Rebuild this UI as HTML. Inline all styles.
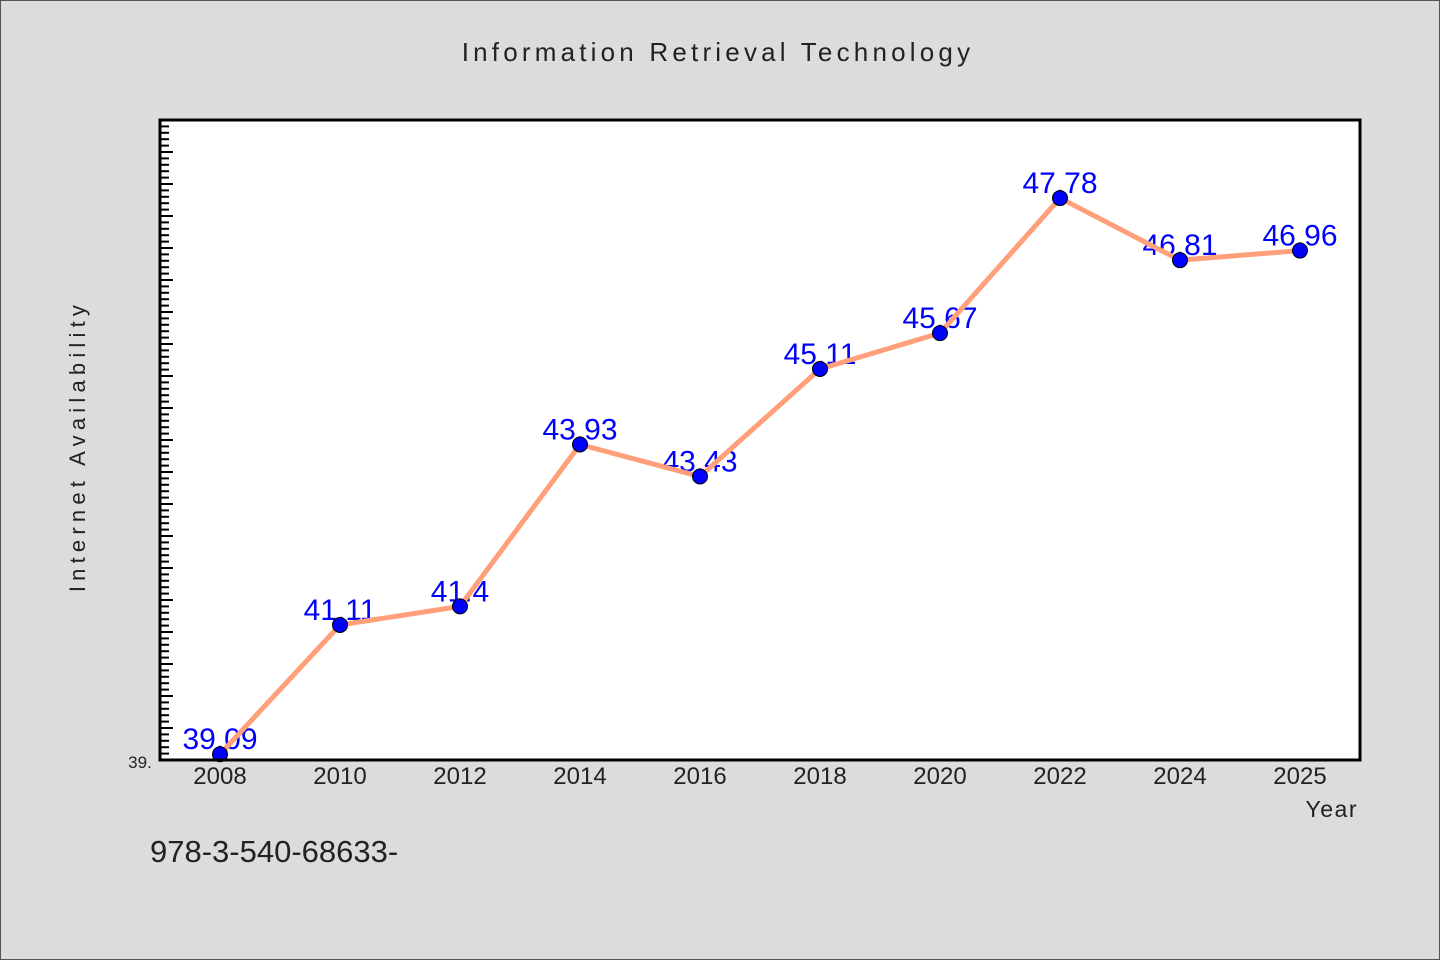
<!DOCTYPE html>
<html><head><meta charset="utf-8"><style>
html,body{margin:0;padding:0;background:#dcdcdc;}
svg{display:block;font-family:"Liberation Sans","WenQuanYi Zen Hei",sans-serif;}
</style></head><body>
<svg id="chart" width="1440" height="960" viewBox="0 0 1440 960">
<rect x="0.5" y="0.5" width="1439" height="959" fill="#dcdcdc" stroke="#555"/>
<text x="718" y="61" text-anchor="middle" font-size="26" fill="#222" letter-spacing="4.2">Information Retrieval Technology</text>
<rect x="160" y="120" width="1200" height="640" fill="#fff"/>
<g id="ticks"></g>
<g id="labels"></g>
<g id="series"></g>
<rect x="160" y="120" width="1200" height="640" fill="none" stroke="#000" stroke-width="3"/>
<text x="85" y="446" text-anchor="middle" font-size="22" fill="#222" letter-spacing="5.2" transform="rotate(-90 85 446)">Internet Availability</text>
<text x="1358" y="817" text-anchor="end" font-size="23" fill="#222" letter-spacing="1.5">Year</text>
<text x="140" y="768" text-anchor="middle" font-size="17" fill="#222">39.</text>
<text x="150" y="862" font-size="31" fill="#222">978-3-540-68633-</text>
</svg>
<script>
const categories=["2008","2010","2012","2014","2016","2018","2020","2022","2024","2025"];
const values=[39.09,41.11,41.4,43.93,43.43,45.11,45.67,47.78,46.81,46.96];
const valueLabels=["39.09","41.11","41.4","43.93","43.43","45.11","45.67","47.78","46.81","46.96"];
const yMin=39,yMax=49;
const NS="http://www.w3.org/2000/svg";
const L=160,R=1360,T=120,B=760;
function xs(i){return L+60+i*(R-L-120)/(categories.length-1);}
function ys(v){return B-(v-yMin)/(yMax-yMin)*(B-T);}
function mk(tag,attrs,parent){const e=document.createElementNS(NS,tag);for(const k in attrs)e.setAttribute(k,attrs[k]);parent.appendChild(e);return e;}
const tg=document.getElementById('ticks');
for(let k=1;k<100;k++){const v=yMin+k*0.1;const y=ys(v);if(y<T+1)break;
 const major=k%5===0;
 const t=mk('line',{x1:L,x2:L+(major?13:9),y1:y,y2:y,stroke:'#000','stroke-width':2},tg);
 
 }
const lg=document.getElementById('labels');
categories.forEach((c,i)=>{
 const t=mk('text',{x:xs(i),y:784,'text-anchor':'middle','font-size':24,fill:'#222'},lg);
 t.textContent=c;
 
 
 const vl=mk('text',{x:xs(i),y:ys(values[i])-5,'text-anchor':'middle','font-size':30,fill:'#0000ff'},lg);
 vl.textContent=valueLabels[i];
 
 
});
const sg=document.getElementById('series');
const line=mk('polyline',{points:values.map((v,i)=>xs(i)+','+ys(v)).join(' '),fill:'none',stroke:'#ffa07a','stroke-width':5},sg);


values.forEach((v,i)=>{
 const c=mk('circle',{cx:xs(i),cy:ys(v),r:7.5,fill:'#0000ff',stroke:'#000','stroke-width':1},sg);
 
 
});
</script>
</body></html>
